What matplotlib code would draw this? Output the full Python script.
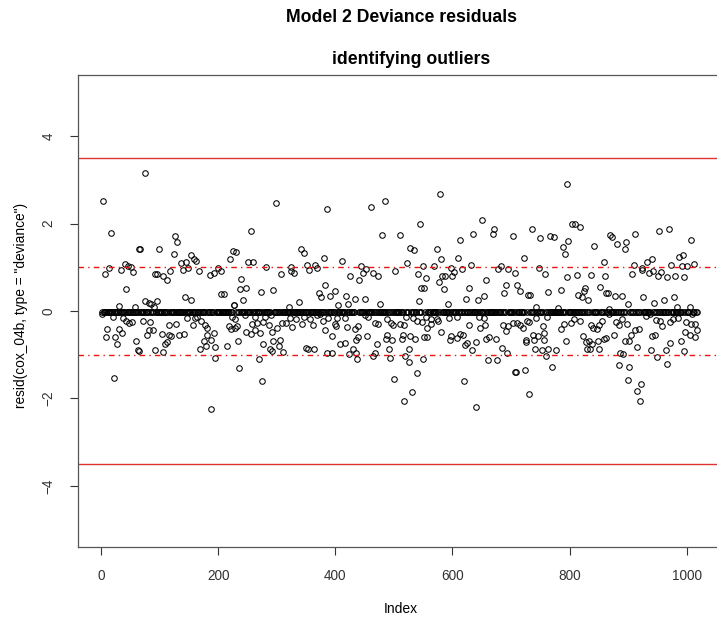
import matplotlib
matplotlib.use("Agg")
import matplotlib.pyplot as plt
import numpy as np

# observations that sit away from the zero band (index, deviance residual)
out_idx = [
    3, 17, 64, 14, 7, 34, 40, 45, 51, 54, 43, 31, 57, 2, 20, 37, 42, 47, 53, 10,
    30, 35, 9, 23, 27, 60, 63, 21,
    75, 67, 98, 126, 129, 124, 153, 159, 162, 136, 145, 148, 140, 117, 167, 92, 95, 105, 113, 186,
    192, 199, 204, 220, 225, 143, 154, 205, 210, 74, 82, 96, 90, 85, 226,
    71, 84, 81, 78, 89, 103, 116, 127, 115, 120, 112, 109, 133, 142, 147, 156, 160, 164, 171, 177,
    181, 180, 175, 187, 193, 179, 168, 195, 194, 214, 218, 222, 65, 91, 106, 188,
    299, 386, 256, 230, 251, 259, 282, 342, 346, 352, 366, 369, 355, 380, 324, 325, 329, 307, 239, 237,
    247, 273, 294, 243, 227, 372, 375, 383, 337, 320,
    224, 228, 232, 229, 246, 257, 266, 276, 263, 280, 290, 248, 255, 262, 272, 287, 291, 301, 309, 315,
    326, 322, 333, 343, 347, 356, 362, 368, 374, 382, 379, 234, 277, 293, 305, 303, 289, 292, 310, 350,
    353, 364, 385, 270, 235, 274,
    484, 461, 544, 480, 511, 527, 534, 523, 541, 411, 443, 452, 448, 465, 473, 502, 425, 441, 400, 391,
    418, 433, 451, 422, 404, 476, 542, 547,
    387, 402, 450, 399, 401, 417, 420, 434, 439, 455, 468, 472, 488, 495, 499, 510, 517, 520, 532, 539,
    394, 408, 416, 435, 438, 454, 471, 489, 487, 496, 513, 516, 528, 536, 492, 494, 525, 519, 526, 395,
    424, 430, 436, 437, 464, 467, 500, 540, 530, 518,
    578, 651, 671, 669, 635, 704, 613, 573, 581, 609, 632, 550, 568, 597, 603, 617, 677, 683, 694, 707,
    554, 582, 588, 600, 577, 658, 551, 585, 629, 691, 688, 654, 643, 623, 593,
    555, 548, 563, 576, 556, 552, 557, 580, 628, 647, 656, 686, 692, 695, 596, 598, 608, 612, 618, 621,
    625, 640, 657, 663, 674, 633, 684, 693, 660, 676, 549, 706, 619, 641, 564, 574, 594, 607, 645, 653,
    703,
    796, 804, 810, 818, 736, 750, 767, 773, 798, 789, 792, 841, 869, 722, 858, 747, 758, 795, 812, 837,
    861, 711, 715, 729, 733, 764, 786, 827, 824, 814, 822, 831, 852, 862, 742, 780, 867,
    710, 716, 721, 727, 730, 743, 762, 807, 803, 817, 790, 785, 754, 756, 738, 740, 726, 725, 746, 757,
    836, 840, 847, 851, 856, 823, 828, 834, 838, 849, 859, 863, 794, 741, 753, 759, 763, 777, 829, 835,
    850, 770, 708, 724, 731,
    872, 881, 896, 895, 912, 953, 970, 1008, 910, 924, 933, 941, 923, 907, 935, 943, 951, 957, 966, 974,
    980, 987, 993, 992, 1001, 1012, 996, 865, 878, 889, 899, 925, 945, 962, 978, 984, 1006,
    868, 890, 898, 879, 884, 930, 938, 947, 955, 958, 971, 977, 985, 1009, 999, 1007, 1014, 1018, 998, 1005,
    1015, 876, 905, 911, 919, 901, 894, 940, 946, 972, 990, 916, 939, 965, 995, 950, 967, 886, 891, 885,
    902, 900, 922, 915, 920,
]
out_val = [
    2.51, 1.78, 1.42, 0.99, 0.85, 0.93, 1.08, 1.04, 1.00, 0.90, 0.51, 0.11, 0.10, -0.07, -0.13, -0.17, -0.24, -0.28, -0.26, -0.41,
    -0.41, -0.50, -0.60, -0.60, -0.75, -0.69, -0.90, -1.54,
    3.15, 1.41, 1.42, 1.72, 1.57, 1.30, 1.27, 1.18, 1.15, 1.10, 1.13, 0.99, 0.94, 0.91, 0.91, 0.85, 0.84, 0.80, 0.72, 0.83,
    0.87, 0.98, 0.91, 1.20, 1.38, 0.32, 0.26, 0.40, 0.40, 0.23, 0.19, 0.23, 0.10, 0.16, 0.14,
    -0.24, -0.26, -0.43, -0.56, -0.43, -0.52, -0.33, -0.29, -0.56, -0.58, -0.72, -0.75, -0.54, -0.53, -0.17, -0.33, -0.17, -0.13, -0.24, -0.33,
    -0.39, -0.56, -0.69, -0.66, -0.50, -0.81, -0.87, -0.83, -1.08, -0.81, -0.35, -0.41, -0.92, -0.90, -0.93, -2.24,
    2.46, 2.34, 1.83, 1.36, 1.13, 1.13, 1.00, 1.43, 1.33, 1.06, 1.06, 0.99, 0.94, 1.21, 1.00, 0.91, 0.87, 0.85, 0.74, 0.50,
    0.53, 0.44, 0.47, 0.25, 0.14, 0.42, 0.31, 0.59, 0.21, 0.10,
    -0.13, -0.19, -0.34, -0.39, -0.09, -0.29, -0.28, -0.26, -0.13, -0.13, -0.09, -0.48, -0.53, -0.44, -0.50, -0.32, -0.48, -0.38, -0.28, -0.28,
    -0.37, -0.17, -0.18, -0.30, -0.13, -0.19, -0.33, -0.09, -0.07, -0.44, -0.24, -0.69, -0.75, -0.69, -0.66, -0.81, -0.88, -0.92, -0.94, -0.84,
    -0.88, -0.88, -0.97, -1.09, -1.31, -1.61,
    2.52, 2.37, 2.00, 1.74, 1.74, 1.45, 1.40, 1.10, 0.84, 1.15, 1.04, 0.95, 0.87, 0.87, 0.79, 0.91, 0.79, 0.70, 0.46, 0.34,
    0.34, 0.27, 0.27, 0.16, 0.14, 0.16, 0.23, 0.53,
    -0.17, -0.17, -0.10, -0.29, -0.35, -0.17, -0.37, -0.41, -0.35, -0.13, -0.28, -0.30, -0.19, -0.28, -0.32, -0.30, -0.32, -0.13, -0.17, -0.24,
    -0.58, -0.75, -0.73, -0.66, -0.60, -0.58, -0.75, -0.56, -0.64, -0.66, -0.63, -0.56, -0.58, -0.64, -0.87, -1.07, -0.87, -1.02, -1.17, -0.96,
    -0.98, -0.86, -0.96, -1.09, -1.03, -0.96, -1.56, -1.43, -1.86, -2.06,
    2.68, 2.09, 1.88, 1.76, 1.77, 1.72, 1.62, 1.42, 1.20, 1.22, 1.05, 1.02, 1.02, 0.99, 0.90, 0.95, 0.96, 1.04, 0.95, 0.87,
    0.76, 0.81, 0.81, 0.79, 0.66, 0.72, 0.53, 0.51, 0.53, 0.60, 0.41, 0.34, 0.25, 0.27, 0.16,
    -0.13, -0.26, -0.29, -0.23, -0.39, -0.60, -0.60, -0.48, -0.32, -0.38, -0.33, -0.32, -0.45, -0.35, -0.67, -0.58, -0.62, -0.52, -0.56, -0.77,
    -0.73, -0.71, -0.63, -0.60, -0.63, -0.90, -0.84, -0.97, -1.11, -1.12, -1.09, -1.39, -1.61, -2.20, -0.19, -0.19, -0.15, -0.13, -0.13, -0.17,
    -0.28,
    2.90, 1.98, 1.98, 1.93, 1.87, 1.67, 1.72, 1.69, 1.60, 1.47, 1.30, 1.48, 1.74, 1.21, 1.13, 0.98, 0.85, 0.78, 0.83, 0.83,
    0.80, 0.59, 0.46, 0.36, 0.36, 0.44, 0.47, 0.53, 0.46, 0.36, 0.32, 0.25, 0.56, 0.41, 0.10, 0.06, 0.05,
    -0.28, -0.33, -0.39, -0.22, -0.26, -0.17, -0.14, -0.18, -0.28, -0.23, -0.30, -0.41, -0.35, -0.50, -0.54, -0.67, -0.67, -0.71, -0.58, -0.67,
    -0.32, -0.39, -0.41, -0.33, -0.24, -0.58, -0.72, -0.69, -0.75, -0.69, -0.65, -0.62, -0.69, -0.86, -0.90, -1.02, -0.88, -0.90, -0.88, -0.86,
    -0.87, -1.28, -1.39, -1.36, -1.91,
    1.70, 1.53, 1.57, 1.43, 1.77, 1.83, 1.87, 1.63, 1.06, 0.99, 1.11, 1.18, 0.93, 0.85, 0.87, 0.91, 0.80, 0.89, 0.78, 1.06,
    0.81, 1.23, 1.29, 1.02, 1.02, 1.08, 0.78, 0.41, 0.34, 0.34, 0.17, 0.32, 0.19, 0.25, 0.31, 0.10, 0.10,
    -0.07, -0.19, -0.29, -0.26, -0.32, -0.11, -0.07, -0.20, -0.24, -0.34, -0.26, -0.19, -0.17, -0.07, -0.26, -0.29, -0.30, -0.43, -0.47, -0.54,
    -0.60, -0.54, -0.56, -0.44, -0.41, -0.69, -0.69, -0.58, -0.56, -0.73, -0.69, -0.83, -0.90, -0.90, -0.92, -1.05, -1.21, -0.96, -0.99, -1.24,
    -1.27, -1.57, -1.66, -1.82, -2.07,
]

n_obs = 1018          # number of observations (last index on the plot)
band_val = -0.03      # censored cases sit in the thick band just under zero

resid = {i: band_val for i in range(1, n_obs + 1)}
for i, v in zip(out_idx, out_val):
    resid[i] = v
index = np.array(sorted(resid))
values = np.array([resid[i] for i in index])

plt.rcParams['font.family'] = ['Liberation Sans', 'DejaVu Sans']

fig = plt.figure(figsize=(7.17, 6.24), dpi=100)
# box runs slightly past the right edge, as in the cropped original
ax = fig.add_axes([78 / 717, 1 - 547 / 624, 643 / 717, 472 / 624])

ax.plot(index, values, 'o', ms=4.0, mfc='none', mec='black', mew=0.75)

for y in (3.5, -3.5):
    ax.axhline(y, color='#dd3333', lw=1.0)
for y in (1, -1):
    ax.axhline(y, color='#ee1111', lw=1.0, linestyle=(0, (4, 3, 1, 3)))

pad = 0.04 * (n_obs - 1)
ax.set_xlim(1 - pad, n_obs + pad)
ax.set_ylim(-5.4, 5.4)
ax.set_xticks([0, 200, 400, 600, 800, 1000])
ax.set_yticks([-4, -2, 0, 2, 4])
ax.tick_params(direction='out', length=6, width=0.8, colors='#333333',
               labelsize=9.8, pad=10)
for lab in ax.get_yticklabels():
    lab.set_rotation(90)
    lab.set_va('center')
for sp in ax.spines.values():
    sp.set_color('#555555')
    sp.set_linewidth(0.9)

fig.text(21 / 717, 1 - 305 / 624, 'resid(cox_04b, type = "deviance")',
         rotation=90, ha='center', va='center', fontsize=9.9)
fig.text(401 / 717, 1 - 609 / 624, 'Index', ha='center', va='center', fontsize=10)
fig.text(401 / 717, 1 - 17 / 624, 'Model 2 Deviance residuals',
         ha='center', va='center', fontsize=12.7, fontweight='bold')
fig.text(411 / 717, 1 - 60 / 624, 'identifying outliers',
         ha='center', va='center', fontsize=12.7, fontweight='bold')

fig.savefig('out.png', dpi=100)
